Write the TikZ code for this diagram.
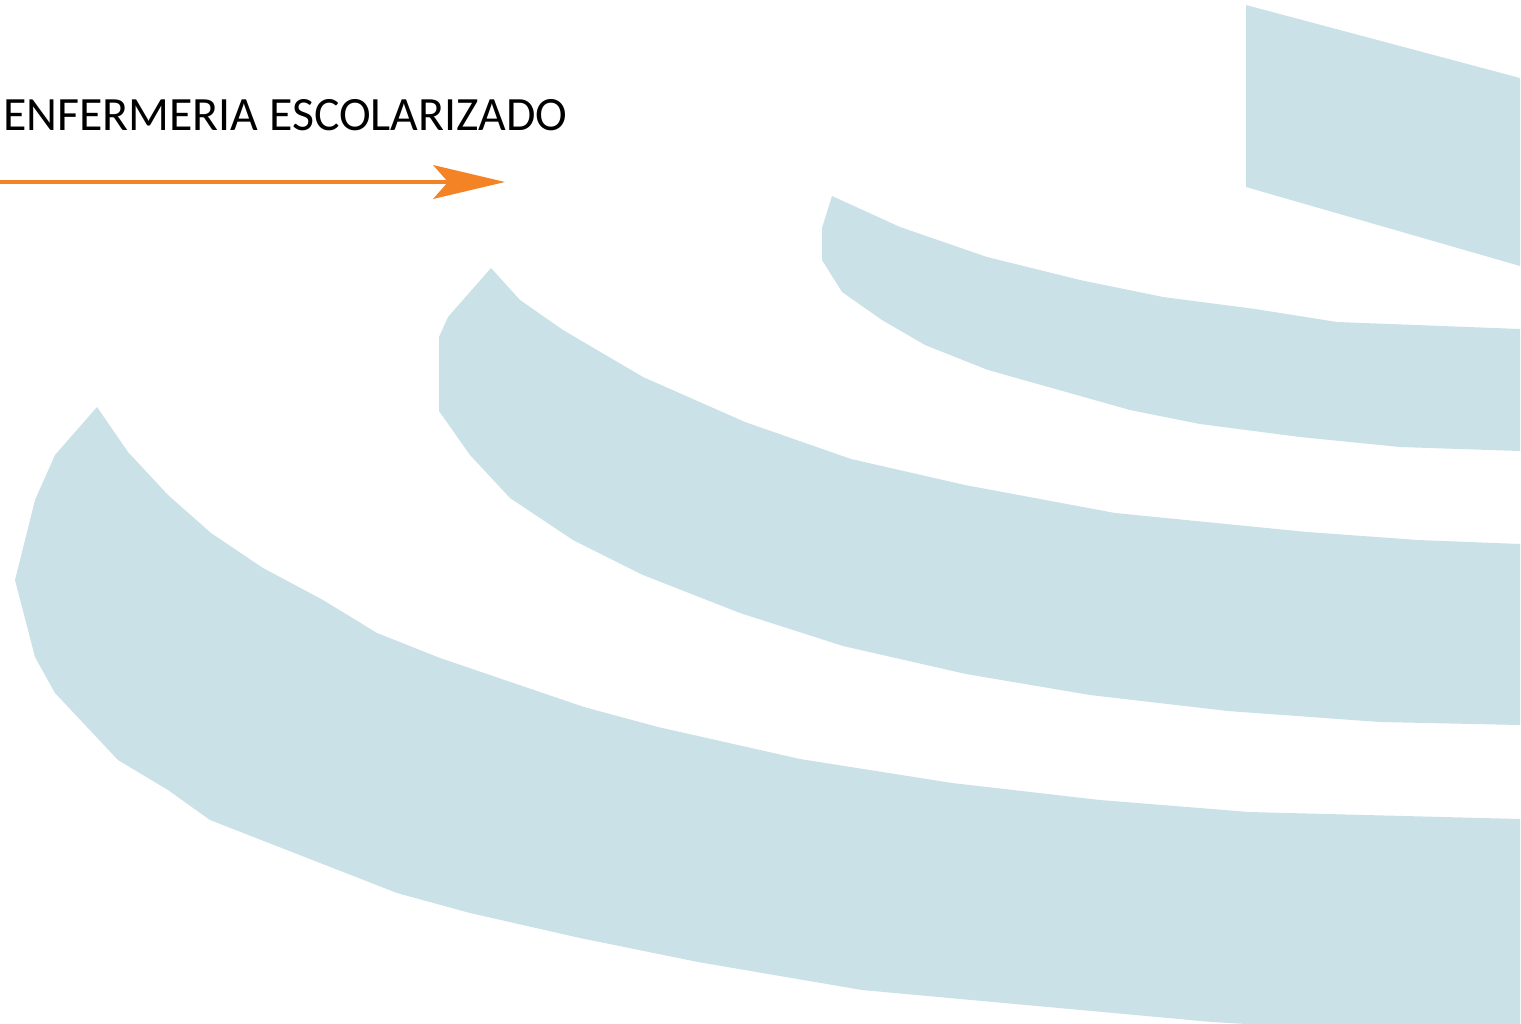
\documentclass[tikz,border=0pt]{standalone}
\usepackage{fontspec}
\setmainfont{Carlito}
\usetikzlibrary{arrows.meta}
\definecolor{bandblue}{RGB}{202,225,231}
\definecolor{arroworange}{RGB}{244,131,38}
\begin{document}
\begin{tikzpicture}[x=1pt,y=-1pt,
  band/.style={fill=bandblue,draw=none},
  arr/.style={draw=arroworange,line width=3.6pt,
    -{Stealth[length=72pt,width=34pt,inset=15pt,line width=0pt,fill=arroworange,round=false]}}]
\useasboundingbox (0,0) rectangle (1521,1023);
\clip (0,0) rectangle (1521,1023);
% bands
\path[band] (1246,5) -- (1520,78) -- (1520,266) -- (1246,187) -- cycle;
\path[band] (832,196) -- (900,227) -- (987,257) -- (1080,280) -- (1163,297) -- (1255,309) -- (1337,322) -- (1520,329)
  -- (1520,451) -- (1400,447) -- (1300,437) -- (1200,424) -- (1130,410) -- (988,370) -- (925,345) -- (882,320) -- (842,292) -- (822,260) -- (822,228) -- cycle;
\path[band] (491,268) -- (520,300) -- (563,330) -- (643,377) -- (745,422) -- (851,459) -- (965,485) -- (1115,513) -- (1307,532) -- (1418,540) -- (1520,544)
  -- (1520,725) -- (1380,722) -- (1228,711) -- (1090,695) -- (966,674) -- (843,646) -- (740,613) -- (643,575) -- (573,540) -- (510,498) -- (470,455) -- (439,411) -- (439,337) -- (448,317) -- cycle;
\path[band] (97,407) -- (128,452) -- (168,495) -- (211,533) -- (263,568) -- (323,600) -- (377,633) -- (440,658) -- (584,707) -- (658,727) -- (800,759) -- (952,783) -- (1100,800) -- (1249,812) -- (1520,819)
  -- (1520,1040) -- (1212,1022) -- (862,990) -- (698,962) -- (580,938) -- (470,913) -- (397,893) -- (210,820) -- (168,790) -- (118,760) -- (55,693) -- (35,657) -- (15,580) -- (35,500) -- (55,455) -- cycle;
% title
\node[anchor=base west,inner sep=0pt,font=\fontsize{47.8}{56}\selectfont] (title) at (3,130) {ENFERMERIA ESCOLARIZADO};
% arrow
\coordinate (arrS) at (0,182);
\coordinate (arrE) at (505,182);
\draw[arr] (arrS) -- (arrE);
\end{tikzpicture}
\end{document}
